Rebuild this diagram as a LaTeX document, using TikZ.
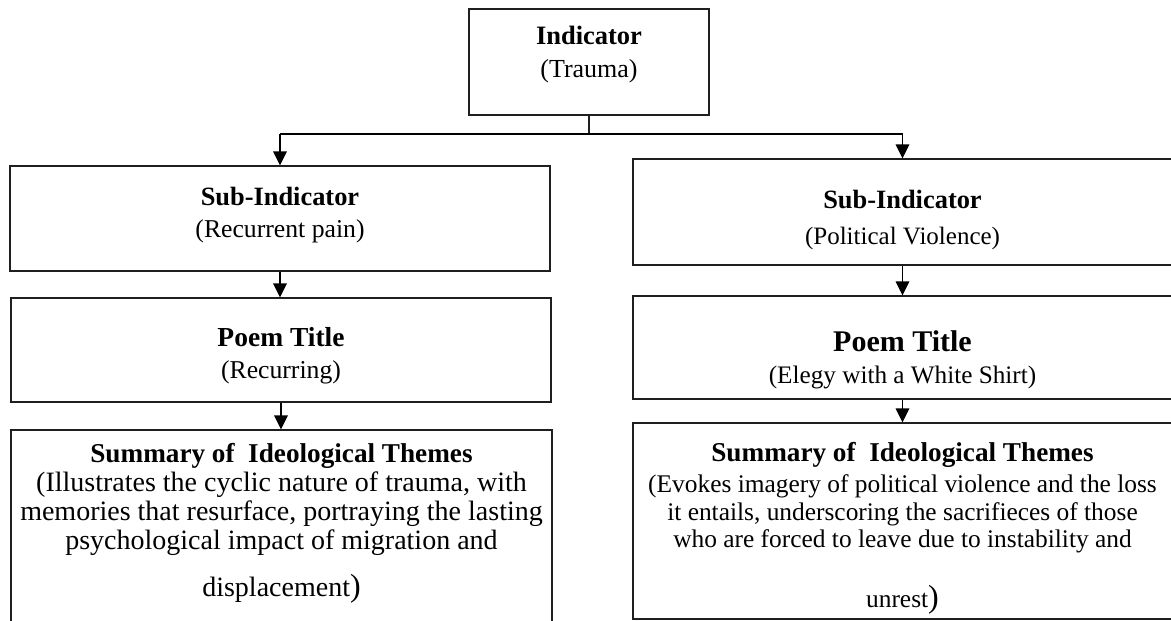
\documentclass[tikz,border=0pt]{standalone}
\usepackage{fontspec}
\setmainfont{Liberation Serif}
\usetikzlibrary{arrows.meta}
\begin{document}
\begin{tikzpicture}[x=1pt,y=-1pt,
  box/.style={draw=black!88, line width=1.2pt, inner sep=0pt, fill=none},
  txt/.style={anchor=base, inner sep=0pt, outer sep=0pt},
  arr/.style={draw=black, line width=1.4pt, -{Triangle[length=14pt,width=13.5pt]}},
  hbar/.style={draw=black, line width=2pt},
  stemline/.style={draw=black!88, line width=1.4pt}]
\useasboundingbox (0,0) rectangle (1171,621);
\fill[white] (0,0) rectangle (1171,621);

% boxes
\node[box, minimum width=240pt, minimum height=106pt] (top) at (589,62) {};
\node[box, minimum width=540pt, minimum height=105pt] (lsub) at (280,218.5) {};
\node[box, minimum width=540pt, minimum height=104pt] (lpoem) at (281,350) {};
\node[box, minimum width=541pt, minimum height=230pt] (lsum) at (281.5,545) {};
\node[box, minimum width=539pt, minimum height=106pt] (rsub) at (902.5,212) {};
\node[box, minimum width=539pt, minimum height=103pt] (rpoem) at (902.5,347.5) {};
\node[box, minimum width=539pt, minimum height=196pt] (rsum) at (902.5,521) {};

% texts
\node[txt] (topT) at (589,45) {\fontsize{26}{32.5}\selectfont
  \begin{tabular}[t]{@{}c@{}}{\bfseries\fontsize{26.5}{32.5}\selectfont Indicator}\\ (Trauma)\end{tabular}};
\node[txt] (lsubT) at (280,205) {\fontsize{25.7}{32}\selectfont
  \begin{tabular}[t]{@{}c@{}}{\bfseries\fontsize{26.4}{32}\selectfont Sub-Indicator}\\ (Recurrent pain)\end{tabular}};
\node[txt] (lpoemT) at (281,346) {\fontsize{25.7}{32}\selectfont
  \begin{tabular}[t]{@{}c@{}}{\bfseries\fontsize{27.5}{32}\selectfont Poem Title}\\ (Recurring)\end{tabular}};
\node[txt] (lsumT) at (281.5,462) {\fontsize{28}{29}\selectfont
  \begin{tabular}[t]{@{}c@{}}{\bfseries\fontsize{27.2}{29}\selectfont Summary of\ \ Ideological Themes}\\
  (Illustrates the cyclic nature of trauma, with\\
  memories that resurface, portraying the lasting\\
  psychological impact of migration and\\[18pt]
  displacement\smash{\fontsize{32}{32}\selectfont)}\end{tabular}};
\node[txt] (rsubT) at (902.5,208) {\fontsize{25}{36}\selectfont
  \begin{tabular}[t]{@{}c@{}}{\bfseries\fontsize{26.4}{36}\selectfont Sub-Indicator}\\ (Political Violence)\end{tabular}};
\node[txt] (rpoemT) at (902.5,351) {\fontsize{25.2}{32}\selectfont
  \begin{tabular}[t]{@{}c@{}}{\bfseries\fontsize{30}{32}\selectfont Poem Title}\\ (Elegy with a White Shirt)\end{tabular}};
\node[txt] (rsumT) at (902.5,461) {\fontsize{25.4}{27.5}\selectfont
  \begin{tabular}[t]{@{}c@{}}{\bfseries\fontsize{27.2}{27.5}\selectfont Summary of\ \ Ideological Themes}\\[4pt]
  (Evokes imagery of political violence and the loss\\
  it entails, underscoring the sacrifieces of those\\
  who are forced to leave due to instability and\\[32pt]
  unrest\smash{\fontsize{32}{32}\selectfont)}\end{tabular}};

% connectors
\coordinate (hub) at (589,134);
\draw[stemline] (top.south) -- (hub);
\draw[hbar] (lsub.north |- hub) -- (rsub.north |- hub);
\draw[arr] (lsub.north |- hub) -- (lsub.north);
\draw[arr] (rsub.north |- hub) -- (rsub.north);
\draw[arr] (lsub.south) -- (lsub.south |- lpoem.north);
\draw[arr] (lpoem.south) -- (lpoem.south |- lsum.north);
\draw[arr] (rsub.south) -- (rsub.south |- rpoem.north);
\draw[arr] (rpoem.south) -- (rpoem.south |- rsum.north);
\end{tikzpicture}
\end{document}
